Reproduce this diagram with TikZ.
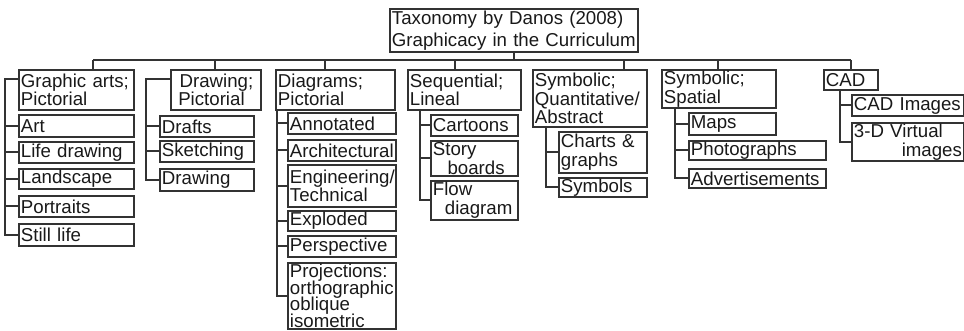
\documentclass[tikz,border=0pt]{standalone}
\usepackage{fontspec}
\setmainfont{Liberation Sans}
\usepackage{tikz}
\usetikzlibrary{positioning}

\begin{document}
\begin{tikzpicture}[
            x=0.75pt, y=-0.75pt,
            taxbox/.style={rectangle, anchor=north west, align=left, draw=black!80, line width=1.4pt, inner xsep=1.5pt, inner ysep=0pt, text=black!90, font={\fontsize{14}{14}\selectfont\lineskiplimit=-\maxdimen}},
            boxsize/.style n args={2}{minimum width=#1*0.75pt, text width=#1*0.75pt-3pt, minimum height=#2*0.75pt},
            link/.style={draw=black!80, line width=1.4pt},
        ]

        \useasboundingbox (0,0) rectangle (964,331);

        % Nodes.
        \node[taxbox, boxsize={248}{43}, font={\fontsize{14}{16.5}\selectfont\lineskiplimit=-\maxdimen}] (root) at (389,8) {Taxonomy by Danos (2008)\\Graphicacy in the Curriculum};

        \node[taxbox, boxsize={115}{40}] (graphic_arts) at (18,69)  {Graphic arts;\\Pictorial};
        \node[taxbox, boxsize={90}{40}]  (drawing)      at (170,69) {\hspace*{5pt}Drawing;\\\hspace*{4pt}Pictorial};
        \node[taxbox, boxsize={119}{40}] (diagrams)     at (275,69) {Diagrams;\\Pictorial};
        \node[taxbox, boxsize={113}{40}] (sequential)   at (407,69) {Sequential;\\Lineal};
        \node[taxbox, boxsize={114}{57}] (quantitative) at (532,69) {Symbolic;\\Quantitative/\\Abstract};
        \node[taxbox, boxsize={114}{38}] (spatial)      at (661,69) {Symbolic;\\Spatial};
        \node[taxbox, boxsize={54}{20}]  (cad)          at (823,69) {CAD};

        \node[taxbox, boxsize={115}{22}] (art)          at (18,114) {Art};
        \node[taxbox, boxsize={115}{21}] (life_drawing) at (18,141) {Life drawing};
        \node[taxbox, boxsize={115}{20}] (landscape)    at (18,168) {Landscape};
        \node[taxbox, boxsize={115}{21}] (portraits)    at (18,195) {Portraits};
        \node[taxbox, boxsize={115}{22}] (still_life)   at (18,223) {Still life};

        \node[taxbox, boxsize={94}{21}] (drafts)       at (159,115) {Drafts};
        \node[taxbox, boxsize={94}{21}] (sketching)    at (159,140) {Sketching};
        \node[taxbox, boxsize={94}{22}] (drawing_item) at (159,168) {Drawing};

        \node[taxbox, boxsize={108}{21}] (annotated)     at (287,112) {Annotated};
        \node[taxbox, boxsize={108}{21}] (architectural) at (287,139) {Architectural};
        \node[taxbox, boxsize={108}{42}] (engineering)   at (287,164) {Engineering/\\Technical};
        \node[taxbox, boxsize={108}{20}] (exploded)      at (287,210) {Exploded};
        \node[taxbox, boxsize={108}{21}] (perspective)   at (287,235) {Perspective};
        \node[taxbox, boxsize={108}{66}, font={\fontsize{14}{12.5}\selectfont\lineskiplimit=-\maxdimen}] (projections) at (287,262) {Projections:\\orthographic\\oblique\\isometric};

        \node[taxbox, boxsize={87}{21}] (cartoons)     at (430,114) {Cartoons};
        \node[taxbox, boxsize={87}{35}] (story_boards) at (430,140) {Story\\\hspace*{11pt}boards};
        \node[taxbox, boxsize={87}{39}] (flow_diagram) at (430,180) {Flow\\\hspace*{9pt}diagram};

        \node[taxbox, boxsize={88}{41}] (charts)  at (558,131) {Charts \&\\graphs};
        \node[taxbox, boxsize={88}{19}] (symbols) at (558,177) {Symbols};

        \node[taxbox, boxsize={87}{22}]  (maps)           at (688,112) {Maps};
        \node[taxbox, boxsize={137}{19}] (photographs)    at (688,140) {Photographs};
        \node[taxbox, boxsize={137}{19}] (advertisements) at (688,168) {Advertisements};

        \node[taxbox, boxsize={112}{21}] (cad_images)     at (851,94)  {CAD Images};
        \node[taxbox, boxsize={112}{38}] (virtual_images) at (851,122) {3-D Virtual\\\hspace*{\fill}images};

        % Coordinates.
        \coordinate (drop_graphic)      at (93,60);
        \coordinate (drop_drawing)      at (215,60);
        \coordinate (drop_diagrams)     at (325,60);
        \coordinate (drop_sequential)   at (455,60);
        \coordinate (drop_quantitative) at (624,60);
        \coordinate (drop_spatial)      at (718,60);
        \coordinate (drop_cad)          at (851,60);

        \coordinate (spine_graphic)      at (5,79);
        \coordinate (spine_drawing)      at (146,79);
        \coordinate (spine_diagrams)     at (277,109);
        \coordinate (spine_sequential)   at (420,109);
        \coordinate (spine_quantitative) at (546,126);
        \coordinate (spine_spatial)      at (675,107);
        \coordinate (spine_cad)          at (840,89);

        % Lines.
        \draw[link] (root.south) -- (root.south |- drop_graphic);
        \draw[link] (drop_graphic) -- (drop_cad);
        \draw[link] (drop_graphic) -- (drop_graphic |- graphic_arts.north);
        \draw[link] (drop_drawing) -- (drop_drawing |- drawing.north);
        \draw[link] (drop_diagrams) -- (drop_diagrams |- diagrams.north);
        \draw[link] (drop_sequential) -- (drop_sequential |- sequential.north);
        \draw[link] (drop_quantitative) -- (drop_quantitative |- quantitative.north);
        \draw[link] (drop_spatial) -- (drop_spatial |- spatial.north);
        \draw[link] (drop_cad) -- (drop_cad |- cad.north);

        \draw[link] (graphic_arts.west |- spine_graphic) -- (spine_graphic) |- (still_life.west);
        \draw[link] (art.west) -- (art.west -| spine_graphic);
        \draw[link] (life_drawing.west) -- (life_drawing.west -| spine_graphic);
        \draw[link] (landscape.west) -- (landscape.west -| spine_graphic);
        \draw[link] (portraits.west) -- (portraits.west -| spine_graphic);

        \draw[link] (drawing.west |- spine_drawing) -- (spine_drawing) |- (drawing_item.west);
        \draw[link] (drafts.west) -- (drafts.west -| spine_drawing);
        \draw[link] (sketching.west) -- (sketching.west -| spine_drawing);

        \draw[link] (spine_diagrams) |- (projections.west);
        \draw[link] (annotated.west) -- (annotated.west -| spine_diagrams);
        \draw[link] (architectural.west) -- (architectural.west -| spine_diagrams);
        \draw[link] (engineering.west) -- (engineering.west -| spine_diagrams);
        \draw[link] (exploded.west) -- (exploded.west -| spine_diagrams);
        \draw[link] (perspective.west) -- (perspective.west -| spine_diagrams);

        \draw[link] (spine_sequential) |- (flow_diagram.west);
        \draw[link] (cartoons.west) -- (cartoons.west -| spine_sequential);
        \draw[link] (story_boards.west) -- (story_boards.west -| spine_sequential);

        \draw[link] (spine_quantitative) |- (symbols.west);
        \draw[link] (charts.west) -- (charts.west -| spine_quantitative);

        \draw[link] (spine_spatial) |- (advertisements.west);
        \draw[link] (maps.west) -- (maps.west -| spine_spatial);
        \draw[link] (photographs.west) -- (photographs.west -| spine_spatial);

        \draw[link] (spine_cad) |- (virtual_images.west);
        \draw[link] (cad_images.west) -- (cad_images.west -| spine_cad);
    \end{tikzpicture}
\end{document}
